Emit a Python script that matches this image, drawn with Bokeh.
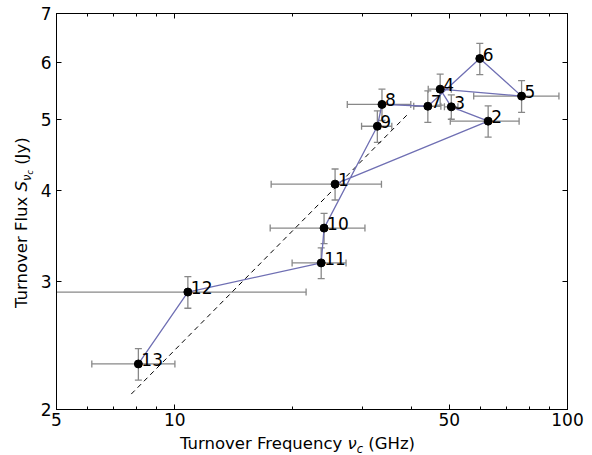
import math
from bokeh.plotting import figure
from bokeh.layouts import row, column
from bokeh.models import (FixedTicker, LogAxis, PrintfTickFormatter, CustomJSTickFormatter,
                          ColumnDataSource, Range1d, Div)
from bokeh.core.properties import value
from bokeh.embed import file_html
from bokeh.resources import INLINE

# ---- data ----
labels = ["1", "2", "3", "4", "5", "6", "7", "8", "9", "10", "11", "12", "13"]
freq = [25.6, 62.8, 50.6, 47.4, 76.4, 59.8, 44.1, 33.7, 32.8, 24.0, 23.6, 10.8, 8.08]
freq_err = [8.0, 12.5, 2.0, 3.2, 18.7, 1.0, 3.5, 6.2, 2.9, 6.5, 3.7, 10.8, 1.93]
flux = [4.08, 4.98, 5.21, 5.51, 5.39, 6.07, 5.22, 5.25, 4.90, 3.55, 3.18, 2.90, 2.31]
flux_err = [0.20, 0.245, 0.20, 0.27, 0.27, 0.30, 0.26, 0.26, 0.245, 0.17, 0.155, 0.145, 0.115]

fit_freq = [7.75, 39.2]
fit_flux = [2.10, 5.09]

x_ticks = [5, 10, 50, 100]
x_minor = [6, 7, 8, 9, 20, 30, 40, 60, 70, 80, 90]
y_ticks = [2, 3, 4, 5, 6, 7]

FONT = "DejaVu Sans"
LINE_C = "#6f6fb3"
ERR_C = "#888888"

X0, X1, Y0, Y1 = 5, 100, 2, 7
W, H = 592, 455
YT_W = 35          # width of the y-title strip
XT_H = 22          # height of the x-title strip
PW, PH = W - YT_W, H - XT_H

p = figure(width=PW, height=PH, x_axis_type="log", y_axis_type="log",
           x_range=Range1d(X0, X1), y_range=Range1d(Y0, Y1),
           output_backend="svg", toolbar_location=None,
           min_border_left=56 - YT_W, min_border_right=25, min_border_top=13,
           min_border_bottom=PH - 409)
p.background_fill_color = "white"
p.border_fill_color = "white"
p.outline_line_color = "black"
p.outline_line_width = 1
p.xgrid.visible = False
p.ygrid.visible = False

x_lo = [max(f - e, 1.0) for f, e in zip(freq, freq_err)]
x_hi = [f + e for f, e in zip(freq, freq_err)]
y_lo = [s - e for s, e in zip(flux, flux_err)]
y_hi = [s + e for s, e in zip(flux, flux_err)]

src = ColumnDataSource(dict(x=freq, y=flux, xlo=x_lo, xhi=x_hi, ylo=y_lo, yhi=y_hi, lab=labels))

# error bars
p.segment(x0="xlo", x1="xhi", y0="y", y1="y", source=src, line_color=ERR_C, line_width=1.3)
p.segment(x0="x", x1="x", y0="ylo", y1="yhi", source=src, line_color=ERR_C, line_width=1.3)
p.scatter(x="xlo", y="y", source=src, marker="dash", angle=math.pi / 2, size=7, line_color=ERR_C, line_width=1.3)
p.scatter(x="xhi", y="y", source=src, marker="dash", angle=math.pi / 2, size=7, line_color=ERR_C, line_width=1.3)
p.scatter(x="x", y="ylo", source=src, marker="dash", size=7, line_color=ERR_C, line_width=1.3)
p.scatter(x="x", y="yhi", source=src, marker="dash", size=7, line_color=ERR_C, line_width=1.3)

# fit line
p.line(fit_freq, fit_flux, line_color="black", line_dash="5 4", line_width=1)

# connecting line and points
p.line(x="x", y="y", source=src, line_color=LINE_C, line_width=1.3)
p.scatter(x="x", y="y", source=src, marker="circle", size=8, fill_color="black", line_color="black")

p.text(x="x", y="y", text="lab", source=src, x_offset=3, y_offset=-4.5,
       text_font=value(FONT), text_font_size="17px", text_baseline="alphabetic",
       text_align="left", text_color="black")

xt = FixedTicker(ticks=x_ticks, minor_ticks=x_minor)
yt = FixedTicker(ticks=y_ticks, minor_ticks=[])

def style(ax):
    ax.axis_line_color = "black"
    ax.major_tick_in = 5
    ax.major_tick_out = 0
    ax.minor_tick_in = 3
    ax.minor_tick_out = 0
    ax.major_tick_line_color = "black"
    ax.minor_tick_line_color = "black"
    ax.major_label_text_font = FONT
    ax.major_label_text_font_size = "17px"
    ax.major_label_text_color = "black"

xa = p.xaxis[0]
xa.ticker = xt
xa.formatter = PrintfTickFormatter(format="%d")
style(xa)
xa.major_label_standoff = 3

ya = p.yaxis[0]
ya.ticker = yt
ya.formatter = PrintfTickFormatter(format="%d")
style(ya)
ya.major_label_standoff = 5

blank = CustomJSTickFormatter(code="return ''")
top = LogAxis(ticker=FixedTicker(ticks=x_ticks, minor_ticks=x_minor), formatter=blank)
style(top)
top.major_label_standoff = 0
top.major_label_text_font_size = "1px"
right = LogAxis(ticker=FixedTicker(ticks=y_ticks, minor_ticks=[]), formatter=blank)
style(right)
right.major_label_standoff = 0
right.major_label_text_font_size = "1px"
p.add_layout(top, "above")
p.add_layout(right, "right")

# ---- axis titles with mixed styles (HTML strips beside the figure) ----
base = f"font-family:'{FONT}';font-size:16.5px;line-height:16.5px;color:black;white-space:nowrap;"
sub1 = "font-size:11.5px;position:relative;top:3.5px;font-style:italic;"
sub2 = "font-size:8px;position:relative;top:2.5px;font-style:italic;"

x_html = (f'<div style="position:relative;width:{PW}px;height:{XT_H}px;">'
          f'<div style="position:absolute;left:{180 - YT_W}px;top:3px;{base}">'
          'Turnover Frequency <i>\u03bd</i><span style="' + sub1 + '">c</span> (GHz)'
          '</div></div>')
y_html = (f'<div style="position:relative;width:{YT_W}px;height:{H}px;">'
          f'<div style="position:absolute;left:14px;top:307.5px;transform:rotate(-90deg);'
          f'transform-origin:left top;{base}">'
          'Turnover Flux <i>S</i><span style="' + sub1 + '">\u03bd<span style="' + sub2 + '">c</span></span> (Jy)'
          '</div></div>')

xdiv = Div(text=x_html, width=PW, height=XT_H, margin=0)
ydiv = Div(text=y_html, width=YT_W, height=H, margin=0)

layout = row(ydiv, column(p, xdiv, spacing=0, margin=0), spacing=0, margin=0)

open("out.html", "w").write(file_html(layout, INLINE))
